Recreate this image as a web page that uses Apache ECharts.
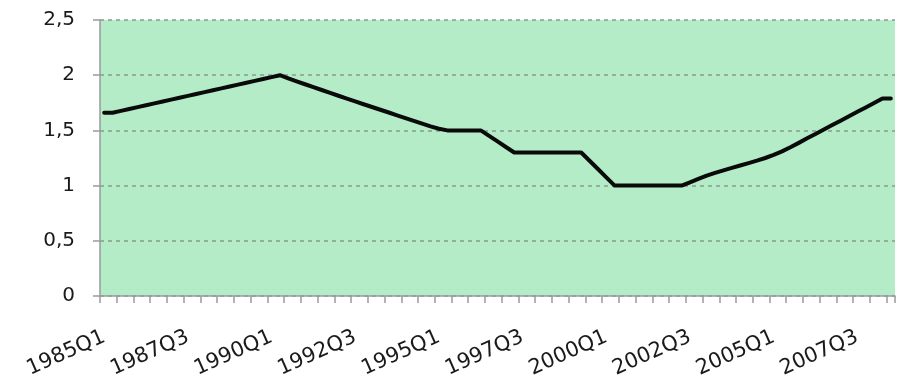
<!DOCTYPE html>
<html>
<head>
<meta charset="utf-8">
<style>
  html, body { margin: 0; padding: 0; background: #ffffff; }
  #chart { width: 900px; height: 382px; }
</style>
<script src="https://cdn.jsdelivr.net/npm/echarts@6/dist/echarts.min.js"></script>
</head>
<body>
<div id="chart"></div>
<script>
// Quarterly categories, 1985Q1 .. 2008Q3
const quarters = [
  '1985Q1','1985Q2','1985Q3','1985Q4','1986Q1','1986Q2','1986Q3','1986Q4',
  '1987Q1','1987Q2','1987Q3','1987Q4','1988Q1','1988Q2','1988Q3','1988Q4',
  '1989Q1','1989Q2','1989Q3','1989Q4','1990Q1','1990Q2','1990Q3','1990Q4',
  '1991Q1','1991Q2','1991Q3','1991Q4','1992Q1','1992Q2','1992Q3','1992Q4',
  '1993Q1','1993Q2','1993Q3','1993Q4','1994Q1','1994Q2','1994Q3','1994Q4',
  '1995Q1','1995Q2','1995Q3','1995Q4','1996Q1','1996Q2','1996Q3','1996Q4',
  '1997Q1','1997Q2','1997Q3','1997Q4','1998Q1','1998Q2','1998Q3','1998Q4',
  '1999Q1','1999Q2','1999Q3','1999Q4','2000Q1','2000Q2','2000Q3','2000Q4',
  '2001Q1','2001Q2','2001Q3','2001Q4','2002Q1','2002Q2','2002Q3','2002Q4',
  '2003Q1','2003Q2','2003Q3','2003Q4','2004Q1','2004Q2','2004Q3','2004Q4',
  '2005Q1','2005Q2','2005Q3','2005Q4','2006Q1','2006Q2','2006Q3','2006Q4',
  '2007Q1','2007Q2','2007Q3','2007Q4','2008Q1','2008Q2','2008Q3'
];

// Series values, one per quarter
const values = [
  1.660, 1.660, 1.677, 1.694, 1.711, 1.728, 1.745, 1.762, 1.779, 1.796,
  1.813, 1.830, 1.847, 1.864, 1.881, 1.898, 1.915, 1.932, 1.949, 1.966,
  1.983, 2.000, 1.972, 1.945, 1.918, 1.892, 1.866, 1.840, 1.814, 1.788,
  1.762, 1.737, 1.712, 1.687, 1.662, 1.637, 1.612, 1.587, 1.562, 1.537,
  1.515, 1.500, 1.500, 1.500, 1.500, 1.500, 1.450, 1.400, 1.350, 1.300,
  1.300, 1.300, 1.300, 1.300, 1.300, 1.300, 1.300, 1.300, 1.225, 1.150,
  1.075, 1.000, 1.000, 1.000, 1.000, 1.000, 1.000, 1.000, 1.000, 1.000,
  1.030, 1.060, 1.090, 1.115, 1.138, 1.160, 1.182, 1.204, 1.226, 1.250,
  1.278, 1.310, 1.347, 1.387, 1.428, 1.468, 1.508, 1.548, 1.588, 1.628,
  1.668, 1.708, 1.748, 1.790, 1.790
];

// Value-axis range and step
const yMin = 0;
const yMax = 2.5;
const yStep = 0.5;

const chart = echarts.init(document.getElementById('chart'), null, { renderer: 'canvas' });

chart.setOption({
  animation: false,
  backgroundColor: '#ffffff',
  grid: {
    left: 100,
    right: 5,
    top: 20,
    bottom: 86,
    show: true,
    backgroundColor: '#b3ecc7',
    borderWidth: 0
  },
  xAxis: {
    type: 'category',
    data: quarters,
    boundaryGap: true,
    axisLine: { show: true, lineStyle: { color: '#9a9a9a', width: 1.5 } },
    axisTick: {
      show: true,
      interval: 1,
      length: 7,
      lineStyle: { color: '#9a9a9a', width: 1.5 }
    },
    axisLabel: {
      interval: 9,
      rotate: 24,
      margin: 40,
      color: '#1a1a1a',
      fontFamily: 'DejaVu Sans',
      fontSize: 21
    },
    splitLine: { show: false }
  },
  yAxis: {
    type: 'value',
    min: yMin,
    max: yMax,
    interval: yStep,
    axisLine: { show: true, lineStyle: { color: '#9a9a9a', width: 1.5 } },
    axisTick: { show: true, length: 7, lineStyle: { color: '#9a9a9a', width: 1.5 } },
    axisLabel: {
      margin: 25,
      color: '#1a1a1a',
      fontFamily: 'DejaVu Sans',
      fontSize: 20,
      formatter: v => String(v).replace('.', ',')
    },
    splitLine: {
      show: true,
      lineStyle: { color: '#8a998f', width: 1.5, type: [4, 4] }
    }
  },
  series: [{
    type: 'line',
    data: values,
    showSymbol: false,
    smooth: false,
    lineStyle: { color: '#0a0a0a', width: 4, join: 'round', cap: 'round' }
  }]
});
</script>
</body>
</html>
